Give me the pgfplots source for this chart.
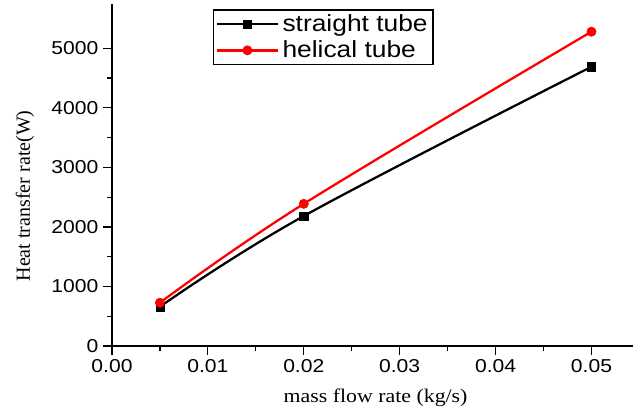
\documentclass[border=0pt]{standalone}
\usepackage{pgfplots}
\pgfplotsset{compat=1.18}
\usepackage{fontspec}
\setmainfont{Liberation Sans}
\newfontfamily\arialx[FakeStretch=1.13]{Liberation Sans}
\newfontfamily\timesx[FakeStretch=1.13]{Liberation Serif}
\newfontfamily\timesn{Liberation Serif}
\begin{document}
\begin{tikzpicture}[x=0.75pt,y=0.75pt]
\path[use as bounding box] (-112,-65) rectangle (528,346);
\begin{axis}[
  at={(0,0)}, anchor=origin,
  scale only axis, width=390.75pt, height=256.5pt,
  xmin=0, xmax=0.05433, ymin=0, ymax=5744,
  axis x line*=bottom, axis y line*=left,
  axis line style={-, line width=0.9pt},
  xtick={0,0.01,...,0.05}, ytick={0,1000,...,5000},
  minor x tick num=1, minor y tick num=1,
  tick align=outside,
  major tick length=6.75pt, minor tick length=3.75pt,
  every tick/.style={black, line width=0.9pt},
  /pgf/number format/assume math mode=true,
  xticklabel style={/pgf/number format/fixed, /pgf/number format/fixed zerofill, /pgf/number format/precision=2},
  yticklabel style={/pgf/number format/1000 sep={}},
  tick label style={font=\fontsize{14}{16}\arialx, black},
  scaled x ticks=false,
  xlabel={mass flow rate (kg/s)},
  ylabel={Heat transfer rate(W)},
  xlabel style={font=\fontsize{14.5}{16}\timesx, at={(axis description cs:0.506,-0.152)}, anchor=center},
  ylabel style={font=\fontsize{15}{16}\timesn, at={(axis description cs:-0.167,0.439)}, anchor=center, rotate=0},
  legend style={at={(axis description cs:0.194,0.984)}, anchor=north west, draw=black, line width=0.8pt,
    font=\fontsize{17.5}{20}\arialx, inner xsep=2pt, inner ysep=1.5pt, row sep=1.5pt,
    /tikz/every odd column/.append style={column sep=1pt}},
  legend cell align=left,
  legend image code/.code={\draw[mark repeat=2,mark phase=2] plot coordinates {(0pt,0pt) (22.5pt,0pt) (45pt,0pt)};},
  clip=false,
]
\addplot[black, line width=1.7pt, smooth, tension=0.6, mark=square*, mark size=3.1pt, mark options={solid, line width=0.4pt}] coordinates {
  (0.005,660) (0.02,2183) (0.05,4690)
};
\addlegendentry{straight tube}
\addplot[red, line width=1.7pt, smooth, tension=0.6, mark=*, mark size=3.5pt, mark options={solid, line width=0.4pt}] coordinates {
  (0.005,727) (0.02,2388) (0.05,5279)
};
\addlegendentry{helical tube}
\end{axis}
\end{tikzpicture}
\end{document}
